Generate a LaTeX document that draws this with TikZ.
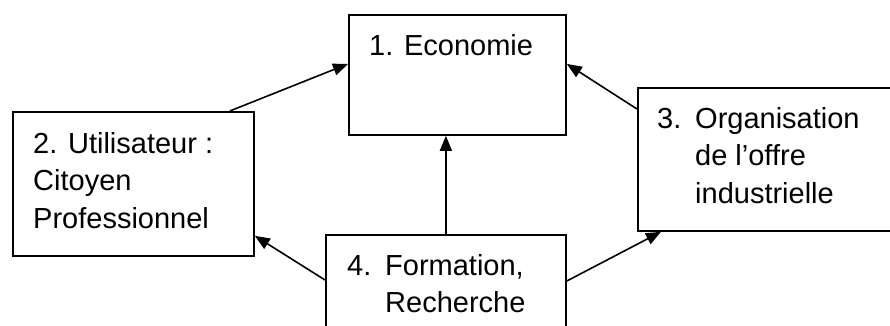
\documentclass[tikz,border=0pt]{standalone}
\usepackage{fontspec}
\setmainfont{Liberation Sans}
\usetikzlibrary{arrows.meta}
\tikzset{
  blok/.style={draw,line width=1.8pt,anchor=north west,inner sep=0pt},
  tekst/.style={anchor=base west,align=left,inner sep=0pt,font=\fontsize{29}{37.5}\selectfont},
  pijl/.style={line width=1.6pt,-{Triangle[length=15pt,width=12pt]}}
}
\newcommand{\numlabel}[1]{\makebox[38pt][l]{#1}}

\begin{document}
\begin{tikzpicture}[x=1pt,y=-1pt]
\useasboundingbox (0,0) rectangle (890,325);

% boxes
\node[blok,minimum width=217pt,minimum height=120pt] (eco) at (348,14) {};
\node[blok,minimum width=241pt,minimum height=144pt] (util) at (12,111) {};
\node[blok,minimum width=262pt,minimum height=143pt] (orga) at (637,87) {};
\node[blok,minimum width=240pt,minimum height=110pt] (form) at (325,234) {};

% texts (base = last line)
\node[tekst] (eco-t) at ([shift={(21pt,-41pt)}]eco.north west) {1. Economie};
\node[tekst] (util-t) at ([shift={(21pt,-117pt)}]util.north west) {2. Utilisateur :\\Citoyen\\Professionnel};
\node[tekst] (orga-t) at ([shift={(20pt,-116pt)}]orga.north west) {\numlabel{3.}Organisation\\\hspace*{38pt}de l’offre\\\hspace*{38pt}industrielle};
\node[tekst] (form-t) at ([shift={(22pt,-78.5pt)}]form.north west) {\numlabel{4.}Formation,\\\hspace*{38pt}Recherche};

% arrows
\draw[pijl] ([xshift=-25pt]util.north east) -- ([yshift=11pt]eco.west);
\draw[pijl] ([yshift=-22pt]orga.north west) -- ([yshift=11pt]eco.east);
\draw[pijl] (form.north) -- (form.north |- eco.south);
\draw[pijl] ([yshift=-46pt]form.north west) -- ([yshift=21pt]util.south east);
\draw[pijl] ([yshift=-47pt]form.north east) -- ([xshift=24pt]orga.south west);

\end{tikzpicture}
\end{document}
